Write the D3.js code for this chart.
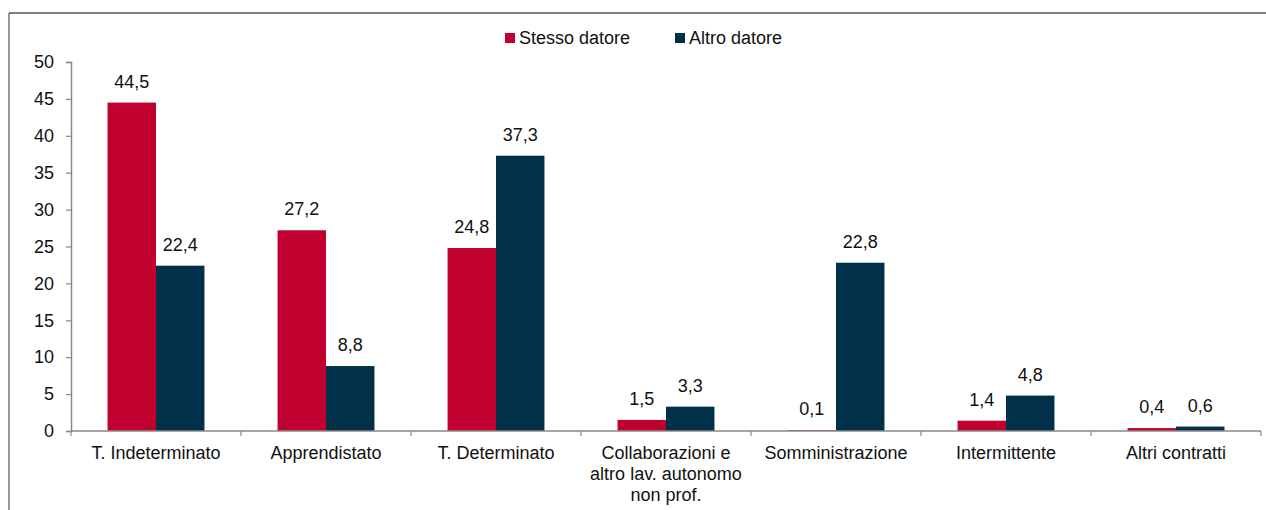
<!DOCTYPE html>
<html>
<head>
<meta charset="utf-8">
<script src="https://cdn.jsdelivr.net/npm/d3@7"></script>
<style>
  html, body { margin: 0; padding: 0; background: #fff; }
  svg { display: block; font-family: "Liberation Sans", Arial, sans-serif; }
</style>
</head>
<body>
<svg id="chart" width="1266" height="510"></svg>
<script>
// Contract types and share (%) by employer
const categories = [
  ["T. Indeterminato"],
  ["Apprendistato"],
  ["T. Determinato"],
  ["Collaborazioni e", "altro lav. autonomo", "non prof."],
  ["Somministrazione"],
  ["Intermittente"],
  ["Altri contratti"]
];
const stessoDatore = [44.5, 27.2, 24.8, 1.5, 0.1, 1.4, 0.4];
const altroDatore  = [22.4, 8.8, 37.3, 3.3, 22.8, 4.8, 0.6];
const seriesNames  = ["Stesso datore", "Altro datore"];
const seriesColors = ["#C0002F", "#00304A"];
const yTicks = [0, 5, 10, 15, 20, 25, 30, 35, 40, 45, 50];

const FONT = 18;
const svg = d3.select("#chart");
const fmt = v => d3.format(".1f")(v).replace(".", ",");

// Frame lines (top and left)
svg.append("line").attr("x1", 9).attr("x2", 1266).attr("y1", 13).attr("y2", 13)
  .attr("stroke", "#555").attr("stroke-width", 1.5);
svg.append("line").attr("x1", 9).attr("x2", 9).attr("y1", 13).attr("y2", 510)
  .attr("stroke", "#555").attr("stroke-width", 1.2);

const plot = { left: 71, right: 1261, top: 62, bottom: 431 };

const x0 = d3.scaleBand()
  .domain(d3.range(categories.length))
  .range([plot.left, plot.right])
  .paddingInner(0).paddingOuter(0);

const groupPad = 0.215;
const x1 = d3.scaleBand()
  .domain([0, 1])
  .range([x0.bandwidth() * groupPad, x0.bandwidth() * (1 - groupPad)]);

const y = d3.scaleLinear().domain([0, 50]).range([plot.bottom, plot.top]);

// Bars and value labels
const series = [stessoDatore, altroDatore];
series.forEach((vals, s) => {
  svg.append("g").selectAll("rect")
    .data(vals)
    .join("rect")
    .attr("x", (d, i) => x0(i) + x1(s))
    .attr("width", x1.bandwidth())
    .attr("y", d => y(d))
    .attr("height", d => y(0) - y(d))
    .attr("fill", seriesColors[s]);

  svg.append("g").selectAll("text")
    .data(vals)
    .join("text")
    .attr("x", (d, i) => x0(i) + x1(s) + x1.bandwidth() / 2)
    .attr("y", d => y(d) - 15)
    .attr("text-anchor", "middle")
    .attr("font-size", FONT)
    .attr("fill", "#111")
    .text(d => fmt(d));
});

// Y axis
const yAxis = svg.append("g")
  .attr("transform", `translate(${plot.left},0)`)
  .call(d3.axisLeft(y).tickValues(yTicks).tickSize(5).tickPadding(12).tickFormat(d3.format("d")));
yAxis.select(".domain").attr("stroke", "#888").attr("stroke-width", 1.5);
yAxis.selectAll(".tick line").attr("stroke", "#888").attr("stroke-width", 1.2);
yAxis.selectAll(".tick text").attr("font-size", FONT).attr("fill", "#111")
  .attr("font-family", "Liberation Sans, Arial, sans-serif");

// X axis baseline with ticks at group boundaries
const xg = svg.append("g");
xg.append("line")
  .attr("x1", plot.left).attr("x2", plot.right)
  .attr("y1", y(0)).attr("y2", y(0))
  .attr("stroke", "#888").attr("stroke-width", 1.5);
xg.selectAll("line.tick")
  .data(d3.range(categories.length + 1))
  .join("line")
  .attr("class", "tick")
  .attr("x1", i => plot.left + i * x0.step())
  .attr("x2", i => plot.left + i * x0.step())
  .attr("y1", y(0)).attr("y2", y(0) + 5)
  .attr("stroke", "#888").attr("stroke-width", 1.2);

// Category labels
const lab = svg.append("g").selectAll("text")
  .data(categories)
  .join("text")
  .attr("x", (d, i) => x0(i) + x0.bandwidth() / 2)
  .attr("y", 459)
  .attr("text-anchor", "middle")
  .attr("font-size", FONT)
  .attr("fill", "#111");
lab.each(function(lines, i) {
  d3.select(this).selectAll("tspan")
    .data(lines)
    .join("tspan")
    .attr("x", x0(i) + x0.bandwidth() / 2)
    .attr("dy", (d, k) => k === 0 ? 0 : 21)
    .text(d => d);
});

// Legend
const legendItems = [
  { name: seriesNames[0], color: seriesColors[0], x: 505 },
  { name: seriesNames[1], color: seriesColors[1], x: 675 }
];
const lg = svg.append("g").selectAll("g")
  .data(legendItems)
  .join("g")
  .attr("transform", d => `translate(${d.x},33)`);
lg.append("rect").attr("width", 10).attr("height", 10).attr("fill", d => d.color);
lg.append("text").attr("x", 14).attr("y", 11)
  .attr("font-size", FONT).attr("fill", "#111")
  .text(d => d.name);
</script>
</body>
</html>
